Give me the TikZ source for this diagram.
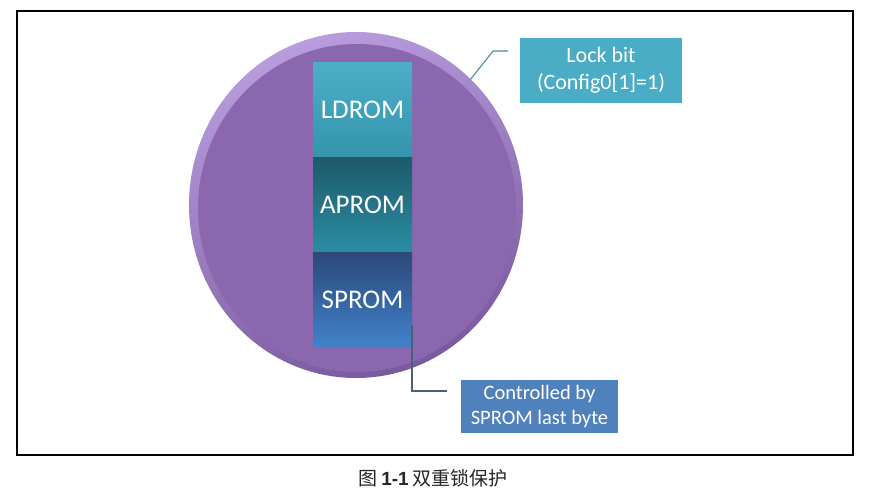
\documentclass[tikz,border=0pt]{standalone}
\usepackage{fontspec}
\setmainfont{Carlito}
\newfontfamily\cjk{Noto Sans CJK SC}
\newfontfamily\capfont{Liberation Sans}
\usetikzlibrary{shapes.geometric}
\definecolor{rimlight}{HTML}{B89CDD}
\definecolor{rimdark}{HTML}{7A5A9F}
\definecolor{discfill}{HTML}{8A67AF}
\definecolor{ldtop}{HTML}{4DAEC8}
\definecolor{ldbot}{HTML}{3494AC}
\definecolor{aptop}{HTML}{1D5A6A}
\definecolor{apbot}{HTML}{2B8EA3}
\definecolor{sptop}{HTML}{2B4979}
\definecolor{spbot}{HTML}{4282CB}
\definecolor{lockfill}{HTML}{4BACC6}
\definecolor{ctrlfill}{HTML}{4F81BD}
\definecolor{lockline}{HTML}{4E8D9E}
\definecolor{ctrlline}{HTML}{4A6079}
\tikzset{
  memblock/.style={rectangle, draw=none, minimum width=99pt, minimum height=95pt,
    inner sep=0pt, text=white, font=\fontsize{27}{32}\selectfont},
  callout/.style={rectangle, draw=none, inner sep=0pt, text=white, align=center},
  leader/.style={line width=1.1pt}
}
\begin{document}
\begin{tikzpicture}[x=1pt,y=-1pt]
\useasboundingbox (0,0) rectangle (873,500);
\fill[white] (0,0) rectangle (873,500);
% frame
\node[draw=black, line width=1.2pt, minimum width=836pt, minimum height=444pt, inner sep=0pt] (frame) at (435,233) {};
% disc
\node[ellipse, minimum width=334pt, minimum height=346pt, inner sep=0pt,
  top color=rimlight, bottom color=rimdark, shading angle=20] (disc) at (356,205) {};
\node[ellipse, minimum width=318pt, minimum height=328pt, inner sep=0pt,
  fill=discfill] (discin) at (357,208) {};
% memory blocks
\node[memblock, top color=ldtop, bottom color=ldbot] (ldrom) at (362.5,110) {LDROM};
\node[memblock, top color=aptop, bottom color=apbot] (aprom) at (362.5,205) {APROM};
\node[memblock, top color=sptop, bottom color=spbot] (sprom) at (362.5,300) {SPROM};
% callouts
\node[callout, fill=lockfill, minimum width=162pt, minimum height=65pt,
  font=\fontsize{22}{27}\selectfont] (lock) at (601,70.5) {Lock bit\\(Config0[1]=1)};
\node[callout, fill=ctrlfill, minimum width=157pt, minimum height=53pt,
  font=\fontsize{20.5}{25}\selectfont] (ctrl) at (539.5,406.5) {Controlled by\\SPROM last byte};
% leader lines
\coordinate (lk0) at (508,51);
\coordinate (lk1) at (493,51);
\coordinate (lk2) at (470,80);
\draw[leader, lockline] (lk0) -- (lk1) -- (lk2);
\coordinate (ct0) at (412,325);
\coordinate (ct1) at (412,391);
\coordinate (ct2) at (447,391);
\draw[leader, ctrlline] (ct0) -- (ct1) -- (ct2);
% caption
\node[inner sep=0pt, text=black!85] (caption) at (433,478)
  {\fontsize{19}{21}\selectfont\cjk 图 {\capfont\bfseries 1-1} 双重锁保护};
\end{tikzpicture}
\end{document}
